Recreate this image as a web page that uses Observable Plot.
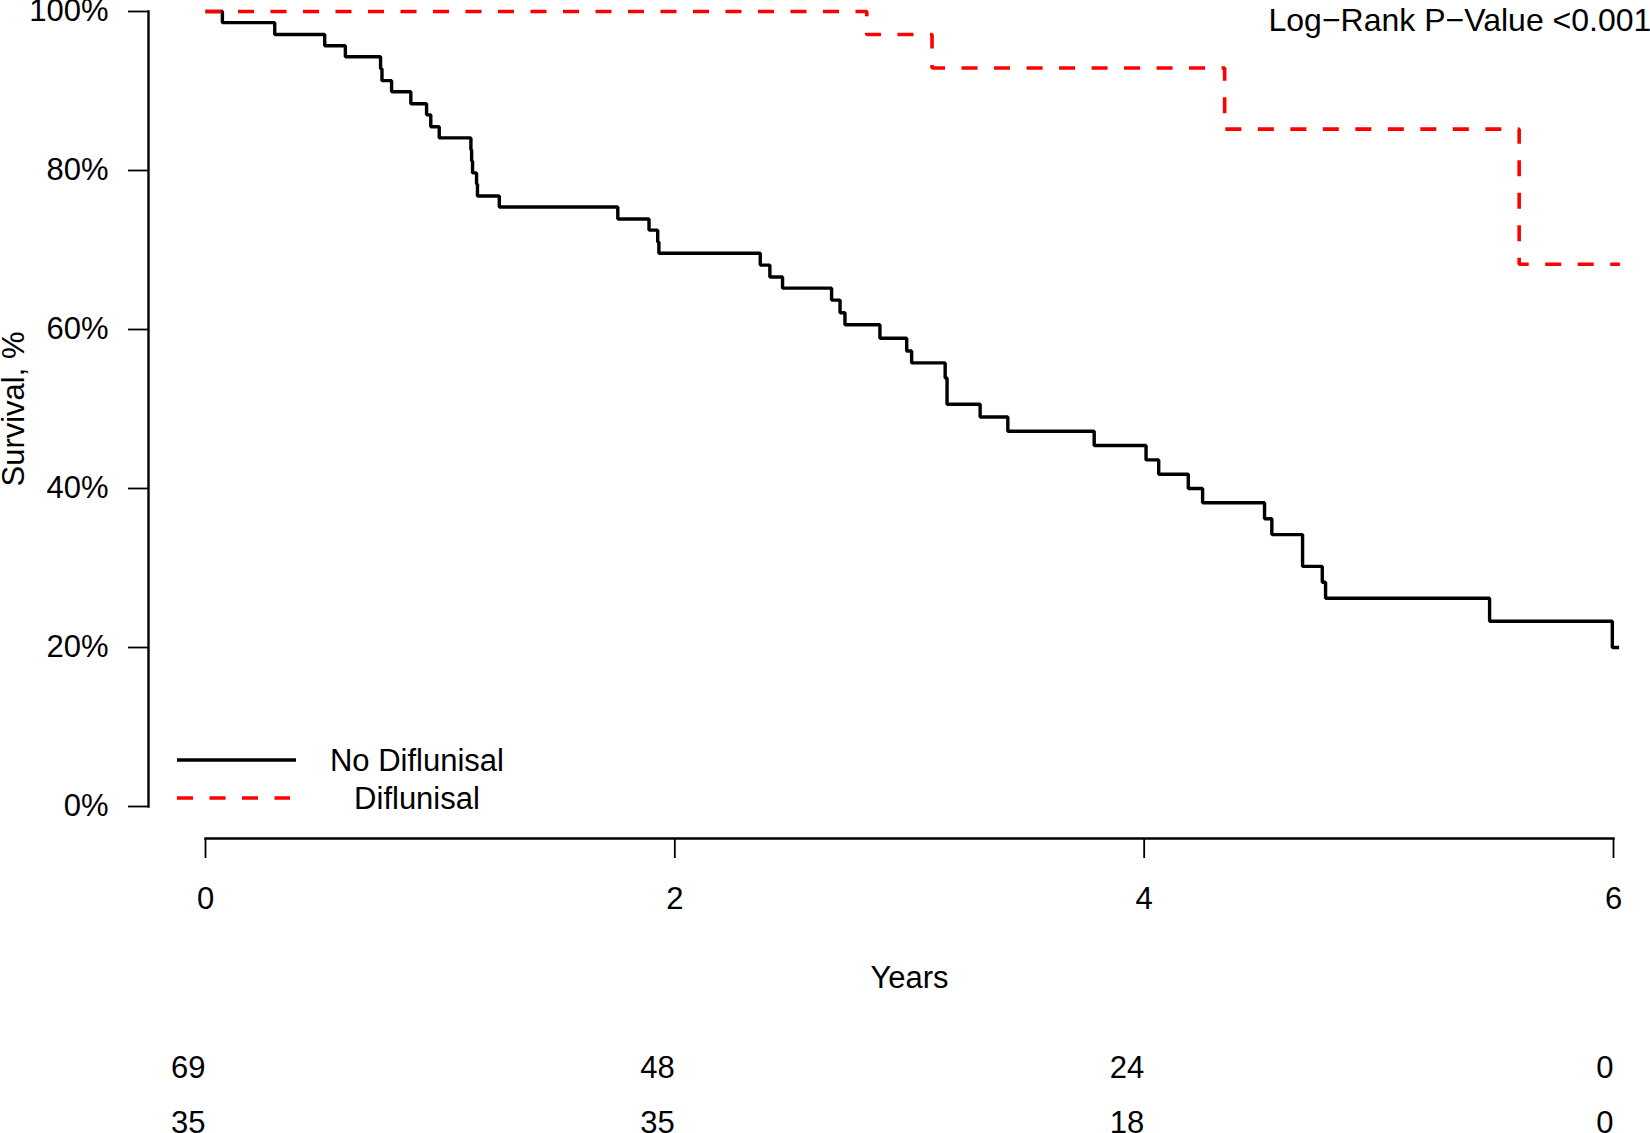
<!DOCTYPE html>
<html>
<head>
<meta charset="utf-8">
<script src="https://cdn.jsdelivr.net/npm/d3@7"></script>
<script src="https://cdn.jsdelivr.net/npm/@observablehq/plot@0.6"></script>
<style>
  html, body { margin: 0; padding: 0; background: #ffffff; }
  #chart { width: 1650px; height: 1133px; }
</style>
</head>
<body>
<div id="chart"></div>
<script>
// ---- Data ----
const seriesNames = ["No Diflunisal", "Diflunisal"];
const seriesColors = ["#000000", "#ff0000"];

const timesNoDiflunisal = [0, 0.072, 0.295, 0.508, 0.596, 0.746, 0.752, 0.793, 0.875, 0.942, 0.960, 0.996,
  1.131, 1.134, 1.138, 1.155, 1.159, 1.252, 1.757, 1.890, 1.927, 1.932, 2.364, 2.405, 2.459, 2.668,
  2.704, 2.725, 2.874, 2.988, 3.009, 3.152, 3.160, 3.301, 3.419, 3.787, 4.008, 4.062, 4.188, 4.249,
  4.513, 4.544, 4.675, 4.759, 4.773, 5.472, 5.995, 6.024];
const survNoDiflunisal = [100, 98.6, 97.1, 95.7, 94.3, 92.8, 91.3, 89.9, 88.4, 87.0, 85.5, 84.1,
  82.6, 81.2, 79.7, 78.3, 76.8, 75.4, 73.9, 72.5, 71.0, 69.6, 68.1, 66.6, 65.2, 63.7,
  62.1, 60.6, 58.9, 57.3, 55.8, 53.9, 50.6, 49.0, 47.2, 45.4, 43.6, 41.8, 40.0, 38.2,
  36.2, 34.2, 30.2, 28.2, 26.2, 23.3, 20.0, 20.0];

const timesDiflunisal = [0, 2.818, 3.096, 4.343, 5.598, 6.027];
const survDiflunisal = [100, 97.1, 92.9, 85.2, 68.2, 68.2];

const xTicks = [0, 2, 4, 6];
const yTicks = [0, 20, 40, 60, 80, 100];
const riskTimes = [0, 2, 4, 6];
const riskNoDiflunisal = [69, 48, 24, 0];
const riskDiflunisal = [35, 35, 18, 0];

const pValueText = "Log\u2212Rank P\u2212Value <0.001";
const xLabel = "Years";
const yLabel = "Survival, %";

// ---- Build tables ----
const noDif = timesNoDiflunisal.map((t, i) => ({t, s: survNoDiflunisal[i]}));
const dif = timesDiflunisal.map((t, i) => ({t, s: survDiflunisal[i]}));

const FONT = "'Liberation Sans', Arial, Helvetica, sans-serif";
const FS = 31;
const DASH = "16,16.5";

const chart = Plot.plot({
  width: 1650,
  height: 1133,
  marginLeft: 148,
  marginRight: 0,
  marginTop: 0,
  marginBottom: 295,
  x: {domain: [0, 6], insetLeft: 57, insetRight: 37},
  y: {domain: [0, 100], insetTop: 11, insetBottom: 32},
  style: {fontFamily: FONT, fontSize: FS + "px", color: "#000", background: "#fff", overflow: "hidden"},
  marks: [
    // axis lines
    Plot.frame({anchor: "left", insetTop: 11, insetBottom: 32, strokeWidth: 2.4, stroke: "#000"}),
    Plot.frame({anchor: "bottom", insetLeft: 57, insetRight: 37, strokeWidth: 2.4, stroke: "#000"}),
    Plot.axisY({anchor: "left", ticks: yTicks, tickFormat: d => d + "%", tickSize: 20, tickPadding: 20,
      strokeWidth: 1.8, fontSize: FS, label: null}),
    Plot.axisX({anchor: "bottom", ticks: xTicks, tickFormat: d => String(d), tickSize: 20, tickPadding: 28,
      strokeWidth: 1.8, fontSize: FS, label: null}),
    // survival curves
    Plot.line(noDif, {x: "t", y: "s", curve: "step-after", stroke: seriesColors[0], strokeWidth: 3.4,
      strokeLinejoin: "miter", strokeLinecap: "butt"}),
    Plot.line(dif, {x: "t", y: "s", curve: "step-after", stroke: seriesColors[1], strokeWidth: 3.6,
      strokeDasharray: DASH, strokeLinejoin: "miter", strokeLinecap: "butt"}),
    // axis titles
    Plot.text([xLabel], {x: 3, frameAnchor: "bottom", lineAnchor: "bottom", dy: 149, fontSize: FS, fill: "#000"}),
    Plot.text([yLabel], {y: 50, frameAnchor: "left", rotate: -90, textAnchor: "middle", lineAnchor: "middle",
      dx: -134, fontSize: FS, fill: "#000"}),
    // p-value
    Plot.text([pValueText], {frameAnchor: "top-right", textAnchor: "start", lineAnchor: "bottom", dx: -382, dy: 30,
      fontSize: 32, fill: "#000"}),
    // numbers at risk
    Plot.text(riskTimes, {x: d => d, text: (d, i) => String(riskNoDiflunisal[i]), frameAnchor: "bottom",
      textAnchor: "end", lineAnchor: "bottom", dy: 239, fontSize: FS, fill: "#000"}),
    Plot.text(riskTimes, {x: d => d, text: (d, i) => String(riskDiflunisal[i]), frameAnchor: "bottom",
      textAnchor: "end", lineAnchor: "bottom", dy: 294, fontSize: FS, fill: "#000"})
  ]
});

// ---- Legend (inside the plot area, bottom-left) ----
const svg = d3.select(chart);
const legend = svg.append("g").attr("class", "legend")
  .attr("font-family", FONT).attr("font-size", FS);
const legendRows = seriesNames.map((name, i) => ({
  name, color: seriesColors[i], dash: i === 1 ? DASH : null,
  y: i === 0 ? 760 : 798, x2: i === 0 ? 296 : 290
}));
legendRows.forEach(r => {
  legend.append("line")
    .attr("x1", 177).attr("x2", r.x2).attr("y1", r.y).attr("y2", r.y)
    .attr("stroke", r.color).attr("stroke-width", r.dash ? 3.6 : 3.4)
    .attr("stroke-dasharray", r.dash);
  legend.append("text")
    .attr("x", 417).attr("y", r.y + 11)
    .attr("text-anchor", "middle").attr("fill", "#000")
    .text(r.name);
});

document.getElementById("chart").appendChild(chart);
</script>
</body>
</html>
